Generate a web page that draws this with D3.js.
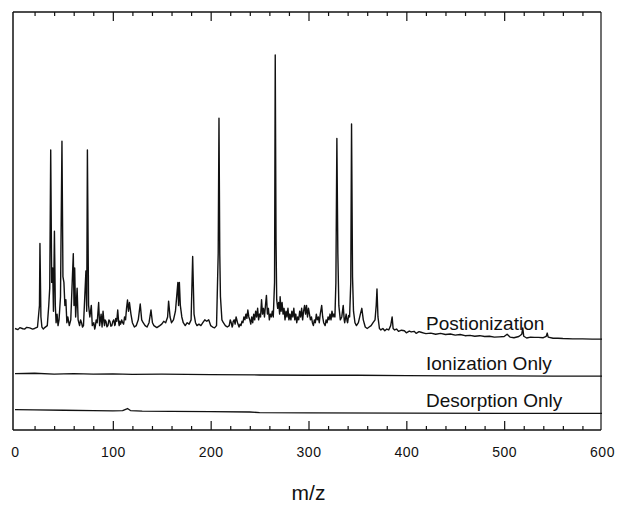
<!DOCTYPE html>
<html>
<head>
<meta charset="utf-8">
<script src="https://cdn.jsdelivr.net/npm/d3@7"></script>
<style>
  html, body { margin: 0; padding: 0; background: #fff; }
  svg { display: block; }
  text { font-family: "Liberation Sans", Arial, Helvetica, sans-serif; fill: #111; }
</style>
</head>
<body>
<svg id="chart" width="621" height="506"></svg>
<script>
// ---------- data ----------
const xTickValues = [0, 100, 200, 300, 400, 500, 600];
const xTickLabels = ["0", "100", "200", "300", "400", "500", "600"];
const xLabel = "m/z";
const seriesNames = ["Postionization", "Ionization Only", "Desorption Only"];

// [m/z, relative intensity]
const postionization = [
  [0,4.0],[3,3.6],[5,4.3],[8,3.9],[10,3.8],[12,4.4],[15,4.2],[18,3.8],[20,4.0],[23,4.5],
  [25,12],[25.5,33.5],[26.5,8],[27.5,4.5],[29,3.8],[30,4.2],[33,5],
  [34.5,12],[35.5,18],[36.5,66],[37.5,20],[38.5,25],[39.3,10],[40.3,37.8],[41.2,12],[42,6],[43,9],[44,5],[45,7],
  [46.5,15],[48,69],[49,22],[50,20],[51,12],[52,14],[53,6],[54,8],[55.5,5],[57,7],
  [59.6,30],[60.3,12],[61,25],[62,8],[63.5,18],[64.5,7],[66,5],[67,7],[68,6],[69,4.5],[70,5],
  [72.5,24],[73.3,10],[74,66],[75.2,12],[76.5,8],[78,12],[79,5],[80.5,6],[81.5,3.8],[82,4.5],[83,7],[84,6],[85.5,13],[86.5,5],
  [87.3,7],[88,9],[89,4.5],[90,10],[91,6],[91.5,5],[92,7],[93,6.5],[94,4.6],[95,5],[96,7],[97,6.5],[98,4.8],[99,5],[100,6.5],[101,7],[102,5],
  [102.5,5.5],[103,7.5],[104,6.5],[105,10.4],[106,6],[106.5,5],[107,6.5],[108,5.5],[109,7],[110,6],[111,5.5],[112,8],[113,7],[114,11],[115,13.9],[116,10],[117,13],[118.5,9],[120,6],[122,4.5],[124,5],
  [126,7],[128,12.5],[129.5,7],[131,6],[133,5],[135,4.5],[137,6],[139,10.4],[140.5,6],[142,5],[145,4.3],[148,5],
  [150,5.5],[152,6.5],[154,6],[156,8],[157,13.5],[158.5,8],[160,6],[162,7],[164,10],[165,14],[166.5,20],[167.2,12],
  [168,20],[169,12],[170.5,8],[172,6],[174,5],[176,6],[178,5.5],[180,7],[181.6,29],[183,9],[184.5,6],[186,5],
  [188,5.5],[190,5],[192,6],[194,7],[196,6.5],[198,7],[200,5],[202,4.5],[204,4.2],[206,5],[207.7,30],[208.5,77],[209.3,30],[210,15],
  [211.5,7],[213,6],[215,5],[217,4.5],[219,5],[220,7],[221,6],[222,4.5],[222.5,5],[223,6.5],[224,7],[225,5.5],[226,8],[227.5,6],[229,4.5],[230,5.5],[231,5],
  [232,6.5],[233,6],[234,8],[235,7],[236,9],[236.5,9],[237,7.5],[238,10.4],[239,8],[240,7],[241,5.5],[242,8],[243,6],[244,9],[245,7],[246,10],[247,8],[248,11],[249,7],
  [250,9],[251,8],[252,14],[253,9],[254,11],[255,8],[256,12],[257,15.5],[258,9],[259,11],[260,7],[261,9],[262,8],[263,10],[264,8],
  [265.3,20],[266,99],[266.8,35],[267.5,14],[268.5,11],[269.5,13],[270.5,9],[271,15],[272,10],[273,13],[274,9],[275,11],[276,7],
  [277,10],[278,8],[279,11],[280,7],[281,9],[282,7],[283,10],[284,8],[285,11],[286,7],[287,9],[288,6],[289,8],[290,7],
  [291,10],[292,8],[293,11],[294,7],[295,10],[296,12],[297,9],[298,12],[299,8],[300,11],[301,9],[302,7],[303,8],[304,6],
  [305,5],[306,7],[307,6],[308,9],[309,7],[310,8],[311,6],[312,9],[313.5,12],[314.5,8],[315.5,6],[317,5],[318,7],[319,6],
  [320,8],[321,7],[322,9],[323,7],[324,10],[325,8],[326,9],[327,8],[328,20],[329,70],[330,30],[331,12],
  [332.5,7],[334,8],[335.5,12],[336.5,7],[337,6],[338.5,9],[339.5,6.5],[340,6],[341,8.5],[342,8],[343.2,20],[344,75],[345,22],[346,10],
  [347.5,6],[349,5],[351,6],[353,9],[354.5,11],[356,7],[358,4.5],[360,4],[362,4.5],[364,5],[366,6],[368,7],
  [369.2,12],[370,17.7],[371,8],[372.5,4],[374,3.5],[376,4],[378,3.2],[380,3.8],[382,3.5],[384,5],[385.5,8],
  [386.5,4],[388,3.5],[390,3.8],[392,3],[395,3.4],[398,3.2],[400,2.5],[403,3.1],[405,2.8],[408,3.0],[410,2.3],[413,2.9],[415,2.7],[418,2.4],[420,2.2],
  [425,2.4],[430,2.0],[435,2.3],[440,1.9],[445,2.1],[450,1.7],[455,1.9],[460,1.5],[465,1.6],[470,1.3],[475,1.5],
  [480,1.2],[485,1.3],[490,1.0],[495,1.1],[500,1.2],[503,2.0],[506,1.0],[510,0.8],[515,1.2],[518,2.0],[519,4.2],
  [520,1.3],[523,0.7],[527,1.0],[531,0.9],[535,0.9],[540,0.8],[543,1.3],[544,2.4],[545,1.0],[550,0.6],[555,0.6],
  [560,0.5],[570,0.4],[580,0.4],[590,0.3],[600,0.3]
];
const ionizationOnly = [
  [0,1.2],[20,1.3],[40,1.0],[60,1.2],[80,1.0],[100,1.1],[120,0.9],[150,1.0],[200,0.8],[250,0.7],
  [300,0.6],[350,0.6],[400,0.5],[450,0.4],[500,0.4],[550,0.3],[600,0.3]
];
const desorptionOnly = [
  [0,1.5],[20,1.4],[50,1.3],[80,1.2],[100,1.1],[110,1.2],[115,1.9],[118,1.2],[130,1.0],[160,0.9],
  [200,0.8],[240,0.7],[250,0.5],[300,0.4],[400,0.3],[500,0.2],[600,0.2]
];

// ---------- layout ----------
const svg = d3.select("#chart");
const pLeft = 13, pRight = 601, pTop = 12, pBottom = 430;
const gain = 288; // px per 100 intensity units

const x = d3.scaleLinear().domain([0, 600]).range([15, 602]);
const tracks = [
  { data: postionization, base: 340, label: seriesNames[0], labelY: 330 },
  { data: ionizationOnly, base: 377, label: seriesNames[1], labelY: 370 },
  { data: desorptionOnly, base: 414, label: seriesNames[2], labelY: 407 }
];

// frame sides
svg.append("line").attr("x1", pLeft).attr("x2", pLeft).attr("y1", pTop).attr("y2", pBottom)
  .attr("stroke", "#111").attr("stroke-width", 1.5);
svg.append("line").attr("x1", pRight).attr("x2", pRight).attr("y1", pTop).attr("y2", pBottom)
  .attr("stroke", "#111").attr("stroke-width", 1.2);

const minorTicks = d3.range(0, 601, 20).filter(v => v % 100 !== 0);
function tickAxis(g, axisFn, values, size) {
  g.call(axisFn(x).tickValues(values).tickSize(size).tickFormat(""));
  g.select(".domain").remove();
  g.selectAll("line").attr("stroke", "#111").attr("stroke-width", 1.2);
}
// top axis: ticks pointing down
svg.append("line").attr("x1", pLeft).attr("x2", pRight).attr("y1", pTop).attr("y2", pTop)
  .attr("stroke", "#111").attr("stroke-width", 1.6);
tickAxis(svg.append("g").attr("transform", `translate(0,${pTop})`), d3.axisBottom, minorTicks, 4);
tickAxis(svg.append("g").attr("transform", `translate(0,${pTop})`), d3.axisBottom, xTickValues.slice(1, -1), 9);

// bottom axis: ticks pointing up
svg.append("line").attr("x1", pLeft).attr("x2", pRight).attr("y1", pBottom).attr("y2", pBottom)
  .attr("stroke", "#111").attr("stroke-width", 1.5);
tickAxis(svg.append("g").attr("transform", `translate(0,${pBottom})`), d3.axisTop, minorTicks, 4);
tickAxis(svg.append("g").attr("transform", `translate(0,${pBottom})`), d3.axisTop, xTickValues.slice(1, -1), 9);

// tick labels
const lab = svg.append("g").attr("transform", `translate(0,${pBottom})`)
  .call(d3.axisBottom(x).tickValues(xTickValues).tickSize(0).tickPadding(17)
    .tickFormat((d, i) => xTickLabels[i]));
lab.select(".domain").remove();
lab.selectAll("text").style("font-size", "14px").style("font-family", "'Liberation Sans', Arial, sans-serif")
  .style("letter-spacing", "0.5px").attr("fill", "#111");

// axis title
svg.append("text").attr("x", x(300)).attr("y", 500).attr("text-anchor", "middle")
  .style("font-size", "21px").text(xLabel);

// spectra
tracks.forEach((t, i) => {
  const y = d3.scaleLinear().domain([0, 100]).range([t.base, t.base - gain]);
  const line = d3.line().x(d => x(d[0])).y(d => y(d[1]));
  svg.append("path").datum(t.data).attr("d", line)
    .attr("fill", "none").attr("stroke", "#111").attr("stroke-width", i === 0 ? 1.4 : 1.3)
    .attr("stroke-linejoin", "round");
  svg.append("text").attr("x", 426).attr("y", t.labelY)
    .style("font-size", "19px").text(t.label);
});
</script>
</body>
</html>
